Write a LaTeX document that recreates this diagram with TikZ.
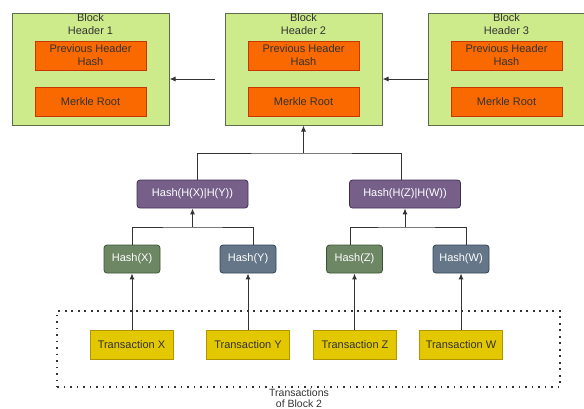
\documentclass[tikz,border=0pt]{standalone}
\usepackage{fontspec}
\setmainfont{Liberation Sans}
\usetikzlibrary{arrows.meta,calc}
\definecolor{blockfill}{HTML}{CDEB8B}
\definecolor{blockline}{HTML}{5E6B4E}
\definecolor{orfill}{HTML}{FA6800}
\definecolor{orline}{HTML}{C73500}
\definecolor{purfill}{HTML}{76608A}
\definecolor{purline}{HTML}{432D57}
\definecolor{grnfill}{HTML}{6D8764}
\definecolor{grnline}{HTML}{3A5431}
\definecolor{bluefill}{HTML}{647687}
\definecolor{blueline}{HTML}{314354}
\definecolor{yelfill}{HTML}{E3C800}
\definecolor{yelline}{HTML}{B09500}
\definecolor{txt}{HTML}{333333}
\definecolor{wire}{HTML}{333333}
\tikzset{
  every node/.style={font=\fontsize{11}{13}\selectfont, inner sep=0pt, align=center},
  header/.style={draw=blockline, fill=blockfill, line width=1pt, minimum width=157pt, minimum height=112pt},
  field/.style={draw=orline, fill=orfill, line width=0.8pt, text=txt, minimum width=111pt, minimum height=29pt},
  pair/.style={draw=purline, fill=purfill, line width=0.8pt, rounded corners=3pt, text=white, minimum width=111pt, minimum height=28pt},
  leafg/.style={draw=grnline, fill=grnfill, line width=0.8pt, rounded corners=3pt, text=white, minimum width=56pt, minimum height=28pt},
  leafb/.style={draw=blueline, fill=bluefill, line width=0.8pt, rounded corners=3pt, text=white, minimum width=56pt, minimum height=28pt},
  tx/.style={draw=yelline, fill=yelfill, line width=0.8pt, text=txt, minimum width=83pt, minimum height=29pt},
  wire/.style={draw=wire, line width=1pt},
  arr/.style={wire, -{Latex[length=6pt,width=5pt]}},
}
\begin{document}
\begin{tikzpicture}[x=1pt,y=-1pt]
\useasboundingbox (0,0) rectangle (584,408);

% block headers
\foreach \n/\cx in {1/90.5, 2/303.5, 3/506.5}{
  \node[header, label={[text=txt, anchor=north, yshift=-1pt]north:Block\\Header \n}] (b\n) at (\cx,69) {};
  \node[field] (p\n) at (\cx,55.5) {Previous Header\\Hash};
  \node[field] (m\n) at (\cx,101.5) {Merkle Root};
}
\draw[arr] ([xshift=-10pt,yshift=-10pt]b2.west) -- ([yshift=-10pt]b1.east);
\draw[arr] ([yshift=-10pt]b3.west) -- ([yshift=-10pt]b2.east);

% merkle tree
\node[pair] (hxy) at (192.5,194) {Hash(H(X)|H(Y))};
\node[pair] (hzw) at (405,194) {Hash(H(Z)|H(W))};
\node[leafg] (hx) at (132,259) {Hash(X)};
\node[leafb] (hy) at (248,259) {Hash(Y)};
\node[leafg] (hz) at (354.5,259) {Hash(Z)};
\node[leafb] (hw) at (461,259) {Hash(W)};

\coordinate (jroot) at (303.5,153);
\draw[wire] ([xshift=4.5pt]hxy.north) |- (jroot) -| ([xshift=-4pt]hzw.north);
\draw[arr] (jroot) -- (b2.south);

\coordinate (jxy) at (192.5,227);
\draw[wire] (hx.north) |- (jxy) -| ([xshift=5pt]hy.north);
\draw[arr] (jxy) -- (hxy.south);

\coordinate (jzw) at (405,227);
\draw[wire] ([xshift=-4.5pt]hz.north) |- (jzw) -| ([xshift=5pt]hw.north);
\draw[arr] (jzw) -- (hzw.south);

% transactions
\node[draw=txt, line width=1.6pt, dash pattern=on 1.6pt off 4.9pt, minimum width=503pt, minimum height=76pt] (grp) at (308.5,349) {};
\node[text=txt, anchor=south, font=\fontsize{10.5}{11}\selectfont] (glabel) at (299,407.6) {Transactions\\of Block 2};
\node[tx] (tX) at (131.5,344.5) {Transaction X};
\node[tx] (tY) at (248,344.5) {Transaction Y};
\node[tx] (tZ) at (355,344.5) {Transaction Z};
\node[tx] (tW) at (461,344.5) {Transaction W};
\draw[arr] (tX.north -| hx) -- (hx.south);
\draw[arr] (tY.north -| hy) -- (hy.south);
\draw[arr] (tZ.north -| hz) -- (hz.south);
\draw[arr] (tW.north -| hw) -- (hw.south);
\end{tikzpicture}
\end{document}
